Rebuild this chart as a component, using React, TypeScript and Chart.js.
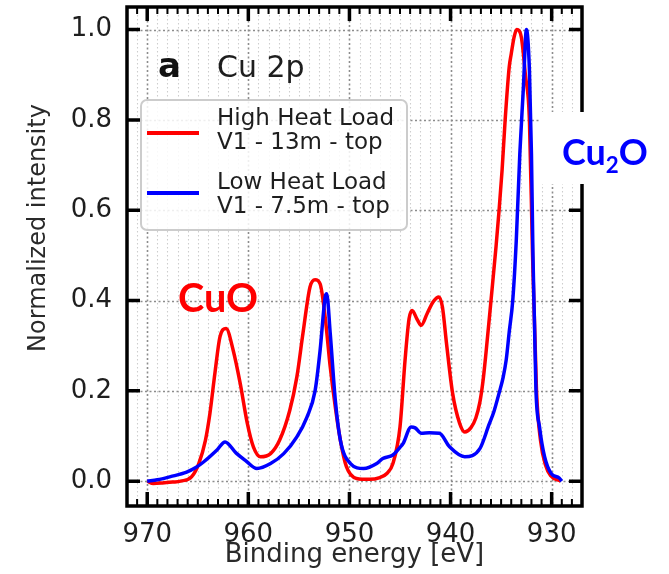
import React, { useEffect, useRef } from "react";
import { Chart, registerables } from "chart.js";

Chart.register(...registerables);

// ---- data ----
const redEnergy = [
  970.0, 969.4, 968.5, 967.5, 966.7, 965.6, 964.9, 964.25, 963.8, 963.3, 962.8, 962.2, 961.5, 960.8, 960.1,
  959.5, 958.8, 957.8, 956.9, 955.9, 955.2, 954.6, 953.9, 953.4, 952.9, 952.4, 951.9, 951.4, 950.9, 950.3,
  949.3, 948.0, 947.0, 946.3, 945.7, 945.0, 944.5, 944.1, 943.8, 943.3, 942.9, 942.3, 941.7, 941.15, 940.8,
  940.4, 939.8, 939.1, 938.6, 938.0, 937.5, 937.1, 936.8, 936.5, 936.0, 935.5, 935.2, 934.9, 934.6, 934.2,
  934.0, 933.7, 933.45, 933.0, 932.6, 932.2, 931.9, 931.5, 931.1, 930.6, 930.1, 929.1,
];
const redIntensity = [
  0.0, -0.005, -0.004, -0.002, 0.0, 0.01, 0.039, 0.09, 0.15, 0.24, 0.32, 0.338, 0.29, 0.216, 0.128,
  0.076, 0.054, 0.061, 0.091, 0.157, 0.231, 0.327, 0.43, 0.446, 0.437, 0.363, 0.253, 0.164, 0.091, 0.032,
  0.006, 0.004, 0.008, 0.017, 0.039, 0.12, 0.268, 0.36, 0.378, 0.358, 0.345, 0.372, 0.398, 0.408, 0.385,
  0.305, 0.195, 0.128, 0.109, 0.118, 0.14, 0.175, 0.22, 0.283, 0.4, 0.52, 0.6, 0.69, 0.8, 0.917,
  0.946, 0.985, 1.0, 0.983, 0.9, 0.8, 0.51, 0.2, 0.09, 0.035, 0.012, 0.0,
];
const blueEnergy = [
  970.0, 969.0, 967.7, 966.1, 965.2, 964.4, 963.1, 962.3, 961.2, 960.3, 959.15, 957.8, 956.5, 955.2, 954.2,
  953.4, 952.9, 952.4, 952.25, 951.9, 951.4, 950.9, 949.9, 948.6, 947.3, 946.7, 945.7, 945.0, 944.7, 943.9,
  943.5, 942.9, 942.1, 941.1, 940.1, 938.6, 937.1, 936.2, 935.7, 935.2, 934.8, 934.5, 934.2, 933.85, 933.5,
  933.15, 932.8, 932.5, 932.2, 932.0, 931.85, 931.7, 931.55, 931.2, 930.7, 930.05, 929.25, 929.0,
];
const blueIntensity = [
  0.0, 0.003, 0.01, 0.02, 0.03, 0.043, 0.069, 0.087, 0.062, 0.046, 0.028, 0.039, 0.061, 0.098, 0.142,
  0.2, 0.29, 0.408, 0.415, 0.327, 0.18, 0.091, 0.039, 0.028, 0.039, 0.05, 0.058, 0.075, 0.083, 0.12,
  0.118, 0.106, 0.107, 0.106, 0.076, 0.054, 0.072, 0.125, 0.155, 0.195, 0.23, 0.268, 0.33, 0.4, 0.533,
  0.725, 0.87, 1.0, 0.91, 0.725, 0.5, 0.35, 0.2, 0.12, 0.054, 0.017, 0.007, 0.0,
];

const seriesNames = ["High Heat Load\nV1 - 13m - top", "Low Heat Load\nV1 - 7.5m - top"];
const seriesColors = ["#ff0000", "#0000ff"];

const xMajorTicks = [970, 960, 950, 940, 930];
const yMajorTicks = [0.0, 0.2, 0.4, 0.6, 0.8, 1.0];
const X_MIN = 927;
const X_MAX = 972;
const Y_MIN = -0.055;
const Y_MAX = 1.05;

const xAxisTitle = "Binding energy [eV]";
const yAxisTitle = "Normalized intensity";
const panelLetter = "a";
const panelTitle = "Cu 2p";
const leftNote = "CuO";
const rightNoteMain = "Cu";
const rightNoteSub = "2";
const rightNoteEnd = "O";

const xAllTicks: number[] = [];
for (let v = Math.ceil(X_MIN); v <= Math.floor(X_MAX); v++) xAllTicks.push(v);

const TEXT = "#1e1e1e";

const decorPlugin = {
  id: "decor",
  beforeDatasetsDraw(chart: any) {
    const { ctx, chartArea, scales } = chart;
    const { left, right, top, bottom } = chartArea;
    const x = scales.x;
    const y = scales.y;
    ctx.save();
    ctx.beginPath();
    ctx.rect(left, top, right - left, bottom - top);
    ctx.clip();
    for (const v of xAllTicks) {
      const major = v % 10 === 0;
      const px = Math.round(x.getPixelForValue(v)) + 0.5;
      ctx.beginPath();
      ctx.setLineDash(major ? [2, 2.5] : [1.5, 2.5]);
      ctx.strokeStyle = major ? "#8c8c8c" : "#cdcdcd";
      ctx.lineWidth = major ? 1.6 : 1.1;
      ctx.moveTo(px, top);
      ctx.lineTo(px, bottom);
      ctx.stroke();
    }
    for (const v of yMajorTicks) {
      const py = Math.round(y.getPixelForValue(v)) + 0.5;
      ctx.beginPath();
      ctx.setLineDash([2, 2.5]);
      ctx.strokeStyle = "#8c8c8c";
      ctx.lineWidth = 1.6;
      ctx.moveTo(left, py);
      ctx.lineTo(right, py);
      ctx.stroke();
    }
    ctx.restore();
  },
  afterDraw(chart: any) {
    const { ctx, chartArea, scales } = chart;
    const { left, right, top, bottom } = chartArea;
    const x = scales.x;
    const y = scales.y;
    ctx.save();
    ctx.setLineDash([]);
    ctx.strokeStyle = "#000";
    for (const v of xAllTicks) {
      const major = v % 10 === 0;
      const px = x.getPixelForValue(v);
      const len = major ? 14 : 7;
      ctx.lineWidth = major ? 3.5 : 2;
      ctx.beginPath();
      ctx.moveTo(px, bottom);
      ctx.lineTo(px, bottom - len);
      ctx.moveTo(px, top);
      ctx.lineTo(px, top + len);
      ctx.stroke();
    }
    for (const v of yMajorTicks) {
      const py = y.getPixelForValue(v);
      ctx.lineWidth = 3.5;
      ctx.beginPath();
      ctx.moveTo(left, py);
      ctx.lineTo(left + 13, py);
      ctx.moveTo(right, py);
      ctx.lineTo(right - 13, py);
      ctx.stroke();
    }
    ctx.lineWidth = 3.5;
    ctx.strokeRect(left, top, right - left, bottom - top);

    // axis titles
    ctx.fillStyle = "#2a2a2a";
    ctx.font = "26px 'DejaVu Sans'";
    ctx.textAlign = "center";
    ctx.textBaseline = "alphabetic";
    ctx.fillText(xAxisTitle, (left + right) / 2, 562);
    ctx.save();
    ctx.translate(45, 228);
    ctx.rotate(-Math.PI / 2);
    ctx.font = "24px 'DejaVu Sans'";
    ctx.fillText(yAxisTitle, 0, 0);
    ctx.restore();

    // panel label
    ctx.textAlign = "left";
    ctx.fillStyle = "#111";
    ctx.font = "bold 34px 'DejaVu Sans'";
    ctx.fillText(panelLetter, 158, 77);
    ctx.fillStyle = TEXT;
    ctx.font = "30px 'DejaVu Sans'";
    ctx.fillText(panelTitle, 217, 77);

    // legend
    const lx = 141, ly = 100, lw = 266, lh = 130;
    ctx.beginPath();
    ctx.roundRect(lx, ly, lw, lh, 6);
    ctx.fillStyle = "rgba(255,255,255,0.85)";
    ctx.fill();
    ctx.strokeStyle = "#cccccc";
    ctx.lineWidth = 2;
    ctx.stroke();
    const ds = chart.data.datasets;
    const lineYs = [133, 193];
    const textYs = [[125, 148.5], [189, 213]];
    ds.forEach((d: any, i: number) => {
      ctx.strokeStyle = d.borderColor;
      ctx.lineWidth = 4;
      ctx.beginPath();
      ctx.moveTo(147, lineYs[i]);
      ctx.lineTo(199, lineYs[i]);
      ctx.stroke();
      ctx.fillStyle = TEXT;
      ctx.font = "23px 'DejaVu Sans'";
      String(d.label).split("\n").forEach((line: string, j: number) => {
        ctx.fillText(line, 217, textYs[i][j]);
      });
    });

    // CuO annotation
    const fam = "Lato, 'Liberation Sans', sans-serif";
    ctx.font = `bold 40px ${fam}`;
    let s = (40 * 80) / ctx.measureText(leftNote).width;
    ctx.font = `bold ${s}px ${fam}`;
    ctx.fillStyle = seriesColors[0];
    ctx.fillText(leftNote, 178, 312);

    // Cu2O annotation on white box
    ctx.fillStyle = "#ffffff";
    ctx.fillRect(540, 112, 669 - 540, 72);
    ctx.font = `bold 40px ${fam}`;
    const wMain = ctx.measureText(rightNoteMain).width + ctx.measureText(rightNoteEnd).width;
    ctx.font = `bold 25px ${fam}`;
    const wSub = ctx.measureText(rightNoteSub).width;
    s = (40 * 86) / (wMain + wSub);
    const sub = s * 0.62;
    ctx.fillStyle = seriesColors[1];
    let cx = 562;
    ctx.font = `bold ${s}px ${fam}`;
    ctx.fillText(rightNoteMain, cx, 165);
    cx += ctx.measureText(rightNoteMain).width;
    ctx.font = `bold ${sub}px ${fam}`;
    ctx.fillText(rightNoteSub, cx, 173);
    cx += ctx.measureText(rightNoteSub).width;
    ctx.font = `bold ${s}px ${fam}`;
    ctx.fillText(rightNoteEnd, cx, 165);
    ctx.restore();
  },
};

export default function App() {
  const ref = useRef<HTMLCanvasElement>(null);
  useEffect(() => {
    const canvas = ref.current;
    if (!canvas) return;
    const chart = new Chart(canvas, {
      type: "line",
      data: {
        datasets: [
          {
            label: seriesNames[0],
            data: redEnergy.map((e, i) => ({ x: e, y: redIntensity[i] })),
            borderColor: seriesColors[0],
            backgroundColor: seriesColors[0],
            borderWidth: 3.5,
            pointRadius: 0,
            cubicInterpolationMode: "monotone",
            order: 1,
          },
          {
            label: seriesNames[1],
            data: blueEnergy.map((e, i) => ({ x: e, y: blueIntensity[i] })),
            borderColor: seriesColors[1],
            backgroundColor: seriesColors[1],
            borderWidth: 3.5,
            pointRadius: 0,
            cubicInterpolationMode: "monotone",
            order: 0,
          },
        ],
      },
      options: {
        animation: false,
        responsive: false,
        devicePixelRatio: 1,
        layout: { padding: { left: 0, right: 87, top: 7, bottom: 0 } },
        plugins: { legend: { display: false }, tooltip: { enabled: false } },
        scales: {
          x: {
            type: "linear",
            reverse: true,
            min: X_MIN,
            max: X_MAX,
            grid: { display: false, drawTicks: false },
            border: { display: false },
            afterBuildTicks: (s: any) => {
              s.ticks = xAllTicks.map((v) => ({ value: v }));
            },
            afterFit: (s: any) => {
              s.height = 68;
              s.paddingLeft = 0;
              s.paddingRight = 0;
            },
            ticks: {
              autoSkip: false,
              maxRotation: 0,
              minRotation: 0,
              padding: 14,
              color: TEXT,
              font: { family: "'DejaVu Sans'", size: 26 },
              callback: (v: any) => (xMajorTicks.includes(Number(v)) ? String(v) : ""),
            },
          },
          y: {
            type: "linear",
            min: Y_MIN,
            max: Y_MAX,
            grid: { display: false, drawTicks: false },
            border: { display: false },
            afterBuildTicks: (s: any) => {
              s.ticks = yMajorTicks.map((v) => ({ value: v }));
            },
            afterFit: (s: any) => {
              s.width = 127;
              s.paddingTop = 0;
              s.paddingBottom = 0;
            },
            ticks: {
              padding: 15,
              color: TEXT,
              font: { family: "'DejaVu Sans'", size: 26 },
              callback: (v: any) => Number(v).toFixed(1),
            },
          },
        },
      },
      plugins: [decorPlugin],
    } as any);
    return () => chart.destroy();
  }, []);
  return (
    <div style={{ position: "fixed", left: 0, top: 0, width: 669, height: 574, background: "#fff" }}>
      <canvas ref={ref} width={669} height={574} style={{ display: "block", width: 669, height: 574 }} />
    </div>
  );
}
